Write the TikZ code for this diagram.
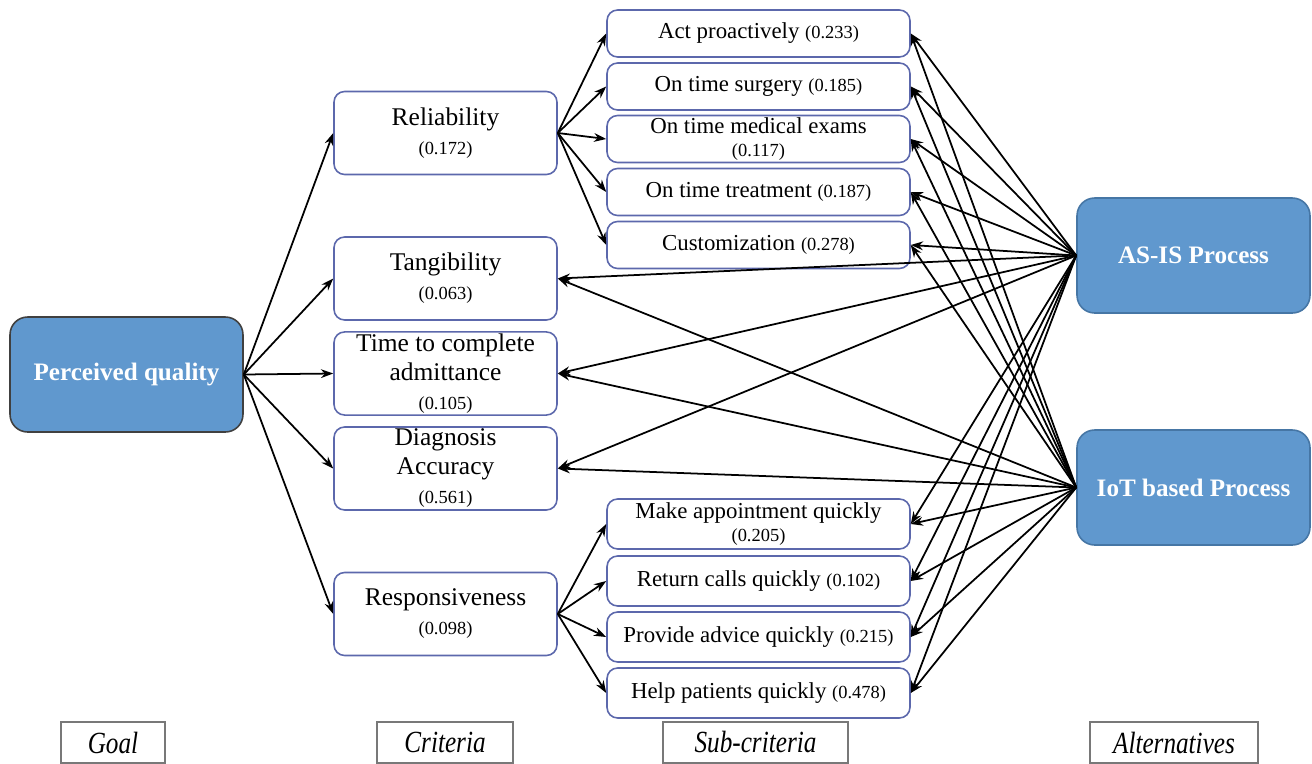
\documentclass[tikz,border=0pt]{standalone}
\usepackage{fontspec}
\setmainfont{Liberation Serif}
\usepackage{tikz}
\usetikzlibrary{arrows.meta,positioning}
\usepackage{xcolor}

\definecolor{altblue}{RGB}{96,152,206}
\definecolor{altedge}{RGB}{70,118,165}
\definecolor{critedge}{RGB}{92,104,172}
\definecolor{tieredge}{RGB}{120,120,120}

\newcommand{\wgt}[1]{{\fontsize{10.5}{12}\selectfont(#1)}}
\newcommand{\tiername}[1]{\scalebox{0.82}[1]{\fontsize{17.5}{19}\selectfont\itshape #1}}

\begin{document}
\begin{tikzpicture}[x=0.02cm, y=-0.02cm,
    critbox/.style={draw=critedge, line width=0.9pt, rectangle, rounded corners=6pt, fill=white,
        minimum width=4.46cm, minimum height=1.66cm, align=center, inner sep=1pt,
        font=\fontsize{14.5}{16.5}\selectfont},
    subbox/.style={draw=critedge, line width=0.9pt, rectangle, rounded corners=6pt, fill=white,
        minimum width=6.06cm, minimum height=0.94cm, align=center, inner sep=1pt,
        font=\fontsize{13}{13.5}\selectfont},
    altbox/.style={draw=altedge, line width=0.9pt, rectangle, rounded corners=10pt, fill=altblue,
        minimum width=4.66cm, minimum height=2.3cm, align=center, text=white,
        font=\fontsize{14.3}{16}\selectfont\bfseries},
    tierbox/.style={draw=tieredge, line width=0.8pt, rectangle, minimum height=0.82cm, inner sep=0pt},
    link/.style={-{Stealth[length=7pt,width=5pt]}, line width=1pt}]

    \useasboundingbox (0,0) rectangle (1312,764);

    % goal
    \node [altbox, draw=black!75] (goal) at (126.5,374.5) {Perceived quality};

    % criteria
    \node [critbox] (rel)  at (445.5,133)   {Reliability\\\wgt{0.172}};
    \node [critbox] (tang) at (445.5,278.5) {Tangibility\\\wgt{0.063}};
    \node [critbox] (adm)  at (445.5,373.5) {Time to complete\\admittance\\\wgt{0.105}};
    \node [critbox] (diag) at (445.5,468.5) {Diagnosis\\Accuracy\\\wgt{0.561}};
    \node [critbox] (resp) at (445.5,614)   {Responsiveness\\\wgt{0.098}};

    % sub-criteria of reliability
    \node [subbox] (act)   at (758.5,33.5) {Act proactively \wgt{0.233}};
    \node [subbox] (surg)  at (758.5,86.5) {On time surgery \wgt{0.185}};
    \node [subbox] (exam)  at (758.5,139)  {On time medical exams\\\wgt{0.117}};
    \node [subbox] (treat) at (758.5,192)  {On time treatment \wgt{0.187}};
    \node [subbox] (cust)  at (758.5,245)  {Customization \wgt{0.278}};

    % sub-criteria of responsiveness
    \node [subbox, minimum height=1.0cm] (appt)   at (758.5,524) {Make appointment quickly\\\wgt{0.205}};
    \node [subbox, minimum height=1.0cm] (calls)  at (758.5,581) {Return calls quickly \wgt{0.102}};
    \node [subbox, minimum height=1.0cm] (advice) at (758.5,637) {Provide advice quickly \wgt{0.215}};
    \node [subbox, minimum height=1.0cm] (help)   at (758.5,693) {Help patients quickly \wgt{0.478}};

    % alternatives
    \node [altbox] (asis) at (1193.5,255.5) {AS-IS Process};
    \node [altbox] (iot)  at (1193.5,487.5) {IoT based Process};

    % level captions
    \node [tierbox, minimum width=2.08cm] (lgoal) at (113,742.5)    {\tiername{Goal}};
    \node [tierbox, minimum width=2.72cm] (lcrit) at (445,742.5)    {\tiername{Criteria}};
    \node [tierbox, minimum width=3.7cm]  (lsub)  at (755.5,742.5)  {\tiername{Sub-criteria}};
    \node [tierbox, minimum width=3.36cm] (lalt)  at (1174,742.5)   {\tiername{Alternatives}};

    % goal to criteria
    \foreach \c in {rel,tang,adm,diag,resp}
        \draw[link] (goal.east) -- (\c.west);

    % criteria to sub-criteria
    \foreach \s in {act,surg,exam,treat,cust}
        \draw[link] (rel.east) -- (\s.west);
    \foreach \s in {appt,calls,advice,help}
        \draw[link] (resp.east) -- (\s.west);

    % alternatives to the lowest level
    \foreach \a in {asis,iot}
        \foreach \t in {act,surg,exam,treat,cust,tang,adm,diag,appt,calls,advice,help}
            \draw[link] (\a.west) -- (\t.east);
\end{tikzpicture}
\end{document}
